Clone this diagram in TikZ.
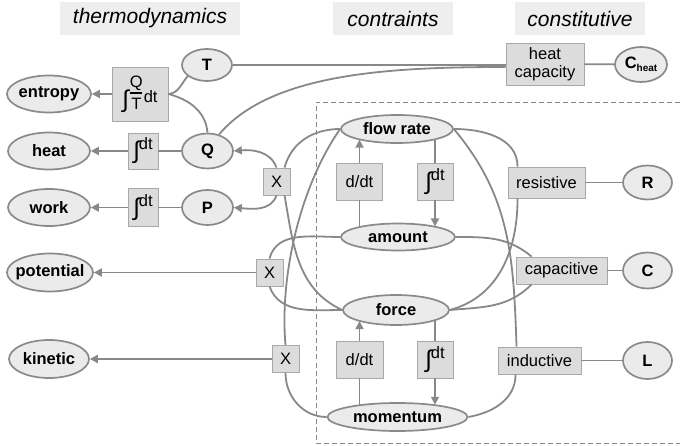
\documentclass[tikz,border=0pt]{standalone}
\usepackage{fontspec}
\setmainfont{Liberation Sans}
\usetikzlibrary{shapes.geometric,arrows.meta}
\definecolor{ln}{HTML}{888888}
\definecolor{ellfill}{HTML}{EBEBEB}
\definecolor{ellline}{HTML}{8A8A8A}
\definecolor{boxfill}{HTML}{DCDCDC}
\definecolor{boxline}{HTML}{A8A8A8}
\definecolor{hdrfill}{HTML}{EEEEEE}
\newcommand\zw[1]{\makebox[0pt]{#1}}
\newcommand\intsign{\raisebox{-5pt}{\fontsize{24}{24}\selectfont ∫}}
\newcommand\intdt{\intsign\kern-1pt\raisebox{4pt}{dt}}
\newcommand\qovert{\raisebox{-7pt}{\shortstack{Q\\[-1pt]\rule{12pt}{1.2pt}\\[1pt]T}}}
\begin{document}
\begin{tikzpicture}[x=1pt,y=1pt,
  ell/.style={ellipse, draw=ellline, fill=ellfill, line width=1.7pt, inner sep=0pt, font=\fontsize{16.5}{18}\selectfont\bfseries},
  box/.style={rectangle, draw=boxline, fill=boxfill, line width=0.9pt, inner sep=0pt, font=\fontsize{16.5}{18}\selectfont, align=center},
  hdr/.style={rectangle, fill=hdrfill, inner sep=0pt, font=\fontsize{21}{24}\selectfont\itshape},
  sz/.style 2 args={minimum width=#1pt, minimum height=#2pt},
  con/.style={draw=ln, line width=1.8pt},
  arr/.style={con, -{Triangle[length=8pt,width=8pt]}},
  frame/.style={draw=ln, line width=0.9pt, dash pattern=on 5pt off 3pt},
]
\useasboundingbox (0,0) rectangle (680,-446);
% frame
\draw[frame] (680,-102) -| (316.5,-443) -- (680,-443);
% headers
\node[hdr, sz={180}{33}] (h1) at (150,-18.5) {thermodynamics};
\node[hdr, sz={120}{33}] (h2) at (393,-18.5) {contraints};
\node[hdr, sz={130}{33}] (h3) at (580,-18.5) {constitutive};
% ellipses
\node[ell, sz={84}{37}] (entropy) at (49,-94) {\zw{entropy}};
\node[ell, sz={82}{37}] (heat) at (49,-151) {\zw{heat}};
\node[ell, sz={82}{37}] (work) at (49,-207.5) {\zw{work}};
\node[ell, sz={86}{38}] (potential) at (50,-272.5) {\zw{potential}};
\node[ell, sz={80}{38}] (kinetic) at (49,-359) {\zw{kinetic}};
\node[ell, sz={50}{32}] (T) at (207,-65) {\zw{T}};
\node[ell, sz={51}{35}] (Q) at (207.5,-151) {\zw{Q}};
\node[ell, sz={51}{35}] (P) at (207.5,-207.5) {\zw{P}};
\node[ell, sz={52}{35}] (Cheat) at (641,-64.5) {\zw{C\raisebox{-3pt}{\fontsize{10}{10}\selectfont heat}}};
\node[ell, sz={49}{34}] (R) at (647.5,-182.5) {\zw{R}};
\node[ell, sz={49}{36}] (C) at (647.5,-270.5) {\zw{C}};
\node[ell, sz={49}{37}] (L) at (647.5,-360.5) {\zw{L}};
\node[ell, sz={112}{28}] (fr) at (397,-129) {\zw{flow rate}};
\node[ell, sz={114}{27}] (am) at (398,-237) {\zw{amount}};
\node[ell, sz={106}{30}] (force) at (396,-310) {\zw{force}};
\node[ell, sz={140}{28}] (mom) at (397.5,-417) {\zw{momentum}};
% boxes
\node[box, sz={56}{54}] (Sint) at (140,-94) {\intsign\kern1pt\qovert\kern1pt dt};
\node[box, sz={30}{36}] (i1) at (143,-151) {\intdt};
\node[box, sz={30}{38}] (i2) at (143,-207.5) {\intdt};
\node[box, sz={27}{27}] (X1) at (276.5,-181.5) {X};
\node[box, sz={27}{27}] (X2) at (269.5,-272.5) {X};
\node[box, sz={27}{27}] (X3) at (285.5,-359) {X};
\node[box, sz={78}{42}, font=\fontsize{16.5}{18.5}\selectfont] (hc) at (545,-64) {heat\\capacity};
\node[box, sz={46}{37}] (d1) at (359.5,-181.5) {d/dt};
\node[box, sz={36}{37}] (i3) at (435,-181.5) {\intdt};
\node[box, sz={47}{37}] (d2) at (359.5,-359.5) {d/dt};
\node[box, sz={36}{37}] (i4) at (435,-359.5) {\intdt};
\node[box, sz={77}{31}] (res) at (546.5,-182.5) {resistive};
\node[box, sz={91}{27}] (cap) at (561.5,-270.5) {capacitive};
\node[box, sz={83}{27}] (ind) at (539.5,-360.5) {inductive};
% thermodynamics connectors
\draw[con] (T.east) -- (hc.west |- T.east);
\draw[con] (Q.55) to[out=50,in=180,out looseness=0.7] ([yshift=-3pt]hc.west);
\draw[con] (hc) -- (Cheat);
\draw[con] (T.210) to[out=230,in=5] (Sint.east);
\draw[con] (Q.north) to[out=95,in=-15] (Sint.east);
\draw[arr] (Sint.west) -- (entropy.east);
\draw[con] (Q.west) -- (i1.east);
\draw[arr] (i1.west) -- (heat.east);
\draw[con] (P.west) -- (i2.east);
\draw[arr] (i2.west) -- (work.east);
\draw[arr] (X1.north) to[out=110,in=5] (Q.east);
\draw[arr] (X1.south) to[out=-110,in=-5] (P.east);
\draw[con] (fr.west) to[out=180,in=75] (X1.60);
\draw[con] (X1.-60) to[out=-80,in=155] (force.west);
\draw[con] (fr.west) to[out=235,in=95,looseness=0.8] (X3.north);
\draw[con] (X2.north) to[out=75,in=180] (am.west);
\draw[con] (X2.south) to[out=-70,in=180] (force.west);
\draw[arr] (X2.west) -- (potential.east);
\draw[arr] (X3.west) -- (kinetic.east);
\draw[con] (X3.south) to[out=-90,in=180] (mom.west);
% constraints
\draw[con] (d1.south) -- (d1.south |- am.165.5);
\draw[arr] (d1.north) -- (d1.north |- fr.195.5);
\draw[con] (i3.north) -- (i3.north |- fr.-15);
\draw[arr] (i3.south) -- (i3.south |- am.15.5);
\draw[con] (d2.south) -- (d2.south |- mom.162.8);
\draw[arr] (d2.north) -- (d2.north |- force.196.6);
\draw[con] (i4.north) -- (i4.north |- force.-14.6);
\draw[arr] (i4.south) -- (i4.south |- mom.17.5);
% constitutive
\draw[con] (fr.east) to[out=0,in=90] ([xshift=10pt]res.north west);
\draw[con] (fr.east) to[out=-50,in=92] ([xshift=19pt]ind.north west);
\draw[con] ([xshift=10pt]res.south west) to[out=-90,in=15] (force.east);
\draw[con] (am.east) to[out=0,in=140] ([xshift=16pt]cap.north west);
\draw[con] (force.east) to[out=5,in=-135] ([xshift=16pt]cap.south west);
\draw[con] (mom.east) to[out=10,in=-90] ([xshift=18pt]ind.south west);
\draw[con] (res) -- (R);
\draw[con] (cap) -- (C);
\draw[con] (ind) -- (L);
\end{tikzpicture}
\end{document}
